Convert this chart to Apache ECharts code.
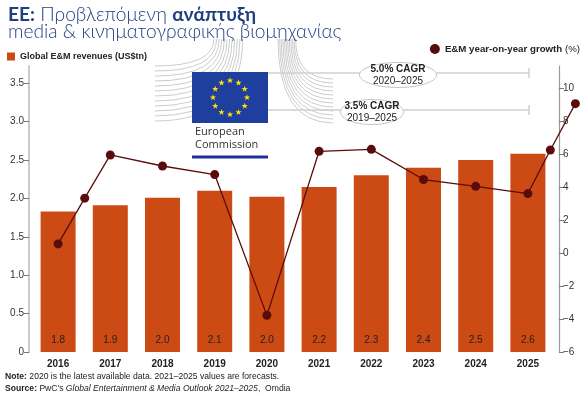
<!DOCTYPE html>
<html>
<head>
<meta charset="utf-8">
<script src="https://cdn.jsdelivr.net/npm/echarts@6/dist/echarts.min.js"></script>
<style>
  html, body { margin: 0; padding: 0; background: #fff; }
  #main { width: 586px; height: 397px; }
</style>
</head>
<body>
<div id="main"></div>
<script>
let years = ['2016', '2017', '2018', '2019', '2020', '2021', '2022', '2023', '2024', '2025'];
let revenue = [1.83, 1.91, 2.01, 2.10, 2.02, 2.15, 2.30, 2.40, 2.50, 2.58];
let revenueLabels = ['1.8', '1.9', '2.0', '2.1', '2.0', '2.2', '2.3', '2.4', '2.5', '2.6'];
// the growth line is not drawn on the year centres everywhere, so it gets its own x positions
let growthPos = [0, 0.51, 1, 2, 3, 4, 5, 6, 7, 8, 9, 9.43, 9.91];
let growth = [0.55, 3.32, 5.94, 5.27, 4.75, -3.78, 6.16, 6.28, 4.45, 4.04, 3.6, 6.24, 9.05];
let leftTicks = [0, 0.5, 1, 1.5, 2, 2.5, 3, 3.5];
let rightTicks = [-6, -4, -2, 0, 2, 4, 6, 8, 10];

let navy = '#1e3f80';
let barColor = '#cc4a14';
let lineColor = '#5a0c0c';
let textColor = '#222';

function starPoints(cx, cy, R, r) {
    let pts = [];
    for (let i = 0; i < 10; i++) {
        let a = -Math.PI / 2 + i * Math.PI / 5;
        let rad = i % 2 ? r : R;
        pts.push([cx + rad * Math.cos(a), cy + rad * Math.sin(a)]);
    }
    return pts;
}

// European Commission logo, drawn as decoration
let logo = [];
for (let k = 0; k < 12; k++) {
    let y = 66 + 5 * k;
    let xe = 214 + 2.6 * k;
    logo.push({
        type: 'bezierCurve',
        shape: { x1: 155, y1: y, cpx1: xe, cpy1: y, x2: xe, y2: 39 },
        style: { stroke: '#cccccc', lineWidth: 1, fill: null }
    });
}
for (let k = 0; k < 12; k++) {
    let x = 278 + 1.6 * k;
    let ye = 123 - 4 * k;
    logo.push({
        type: 'bezierCurve',
        shape: { x1: x, y1: 39, cpx1: x, cpy1: ye, x2: 333, y2: ye },
        style: { stroke: '#cccccc', lineWidth: 1, fill: null }
    });
}
logo.push({ type: 'rect', shape: { x: 192, y: 72, width: 76, height: 51 }, style: { fill: '#1f3f9e' } });
for (let i = 0; i < 12; i++) {
    let a = i * Math.PI / 6;
    logo.push({
        type: 'polygon',
        shape: { points: starPoints(230 + 17 * Math.sin(a), 97.5 - 17 * Math.cos(a), 3.3, 1.35) },
        style: { fill: '#ffe000' }
    });
}
logo.push({
    type: 'text', left: 195, top: 125,
    style: { text: 'European\nCommission', fontFamily: 'Open Sans', fontSize: 11, lineHeight: 13.5, fill: '#333' }
});
logo.push({ type: 'rect', shape: { x: 192, y: 155.5, width: 76, height: 3 }, style: { fill: '#1f2f9a' } });

// CAGR callouts
let cagr = [
    { y: 73, cx: 398, rx: 38.5, top: '5.0% CAGR', bottom: '2020–2025' },
    { y: 110, cx: 372, rx: 31.5, top: '3.5% CAGR', bottom: '2019–2025' }
];
cagr.forEach((c) => {
    logo.push({ type: 'line', shape: { x1: 268, y1: c.y, x2: 529, y2: c.y }, style: { stroke: '#cfcfcf', lineWidth: 1.5 } });
    logo.push({ type: 'line', shape: { x1: 529, y1: c.y - 5, x2: 529, y2: c.y + 5 }, style: { stroke: '#cfcfcf', lineWidth: 1.5 } });
    logo.push({ type: 'ellipse', shape: { cx: c.cx, cy: c.y + 2, rx: c.rx, ry: 12.5 }, style: { fill: '#fff', stroke: '#c4c4c4', lineWidth: 1 } });
    logo.push({
        type: 'text', x: c.cx, y: c.y + 2,
        style: {
            text: '{b|' + c.top + '}\n' + c.bottom,
            align: 'center', verticalAlign: 'middle',
            fontFamily: 'Liberation Sans', fontSize: 10, lineHeight: 12, fill: textColor,
            rich: { b: { fontWeight: 'bold', fontSize: 10, lineHeight: 12, fill: textColor } }
        }
    });
});

// footnotes
logo.push({
    type: 'text', left: 5, top: 370,
    style: {
        text: '{b|Note:} 2020 is the latest available data. 2021–2025 values are forecasts.\n{b|Source:} PwC\'s {i|Global Entertainment & Media Outlook 2021–2025},  Omdia',
        fontFamily: 'Liberation Sans', fontSize: 8.6, lineHeight: 12.5, fill: textColor,
        rich: {
            b: { fontWeight: 'bold', fontSize: 8.6, lineHeight: 12.5, fill: textColor },
            i: { fontStyle: 'italic', fontSize: 8.6, lineHeight: 12.5, fill: textColor }
        }
    }
});

var myChart = echarts.init(document.getElementById('main'));
var option = {
    animation: false,
    title: {
        left: 3, top: 1,
        text: '{b|ΕΕ:} Προβλεπόμενη {b|ανάπτυξη}\nmedia & κινηματογραφικής βιομηχανίας',
        textStyle: {
            fontFamily: 'Lato', fontSize: 19.2, fontWeight: 300, color: navy, lineHeight: 17,
            rich: { b: { fontFamily: 'Lato', fontSize: 19.2, fontWeight: 'bold', color: navy, lineHeight: 17 } }
        }
    },
    legend: [
        {
            data: ['Global E&M revenues (US$tn)'],
            left: 2, top: 47,
            icon: 'rect', itemWidth: 8, itemHeight: 8, itemGap: 4,
            formatter: () => '{b|Global E&M revenues (US$tn)}',
            textStyle: { fontFamily: 'Liberation Sans', fontSize: 9, color: textColor, rich: { b: { fontWeight: 'bold', fontSize: 9, color: textColor } } }
        },
        {
            data: ['E&M year-on-year growth (%)'],
            right: 1, top: 39,
            icon: 'circle', itemWidth: 10, itemHeight: 10, itemGap: 4,
            formatter: () => '{b|E&M year-on-year growth} (%)',
            textStyle: { fontFamily: 'Liberation Sans', fontSize: 9.7, color: textColor, rich: { b: { fontWeight: 'bold', fontSize: 9.7, color: textColor } } }
        }
    ],
    // grid 0 holds the bars and both visible axes, grid 1 is wider so the growth line is not cut at the right edge
    grid: [
        { left: 32, right: 32, top: 66, bottom: 45 },
        { left: 32, right: 0, top: 66, bottom: 45 }
    ],
    xAxis: [
        {
            type: 'category', data: years, gridIndex: 0,
            axisLine: { show: false }, axisTick: { show: false },
            axisLabel: { margin: 7, fontFamily: 'Liberation Sans', fontSize: 10, fontWeight: 'bold', color: textColor }
        },
        { type: 'value', gridIndex: 1, min: -0.5, max: -0.5 + 554 / 52.2, show: false }
    ],
    yAxis: [
        {
            type: 'value', gridIndex: 0, position: 'left', offset: 3,
            min: 0, max: 3.724, interval: 0.5,
            axisLine: { show: true, lineStyle: { color: '#cacaca', width: 2 } },
            axisTick: { show: true, length: 5, lineStyle: { color: '#777' }, customValues: leftTicks },
            axisLabel: {
                margin: 5, fontFamily: 'Liberation Sans', fontSize: 10, color: '#333',
                customValues: leftTicks,
                formatter: (v) => v === 0 ? '0' : v.toFixed(1)
            },
            splitLine: { show: false }
        },
        {
            type: 'value', gridIndex: 0, position: 'right', offset: 5,
            min: -6, max: 11.33, interval: 2,
            axisLine: { show: true, lineStyle: { color: '#999', width: 1.2 } },
            axisTick: { show: true, length: 5, lineStyle: { color: '#777' }, customValues: rightTicks },
            axisLabel: {
                margin: 4, fontFamily: 'Liberation Sans', fontSize: 10, color: '#333',
                customValues: rightTicks,
                formatter: (v) => v < 0 ? '−' + Math.abs(v) : '' + v
            },
            splitLine: { show: false }
        },
        {
            type: 'value', gridIndex: 1, min: -6, max: 11.33, interval: 2, show: false
        }
    ],
    series: [
        {
            name: 'Global E&M revenues (US$tn)',
            type: 'bar', xAxisIndex: 0, yAxisIndex: 0,
            data: revenue, barWidth: 35,
            itemStyle: { color: barColor },
            label: {
                show: true, position: 'insideBottom', distance: 7,
                fontFamily: 'Liberation Sans', fontSize: 10, color: textColor,
                formatter: (p) => revenueLabels[p.dataIndex]
            }
        },
        {
            name: 'E&M year-on-year growth (%)',
            type: 'line', xAxisIndex: 1, yAxisIndex: 2,
            data: growthPos.map((x, i) => [x, growth[i]]),
            clip: false, z: 5,
            symbol: 'circle', symbolSize: 9,
            itemStyle: { color: lineColor },
            lineStyle: { color: lineColor, width: 1.3 }
        }
    ],
    graphic: logo
};
myChart.setOption(option);
</script>
</body>
</html>
